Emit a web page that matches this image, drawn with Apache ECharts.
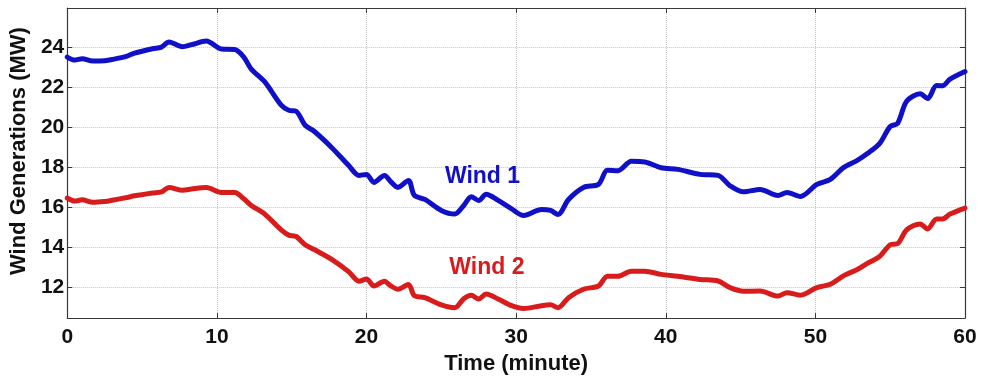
<!DOCTYPE html>
<html>
<head>
<meta charset="utf-8">
<title>Wind Generations</title>
<script src="https://cdn.jsdelivr.net/npm/echarts@6/dist/echarts.min.js"></script>
<style>
  html, body { margin: 0; padding: 0; background: #ffffff; }
  #chart { width: 982px; height: 380px; }
</style>
</head>
<body>
<div id="chart"></div>
<script>
// Sample times (minutes)
const timeMin = [0, 0.5, 1, 1.7, 2.5, 3, 4, 4.5, 5.7, 6.3, 6.8, 7.7, 8.3, 9.3, 10.3, 11.2, 11.8, 12.3, 13.2, 14.3,
  14.8, 15.3, 15.9, 16.5, 17.7, 18.8, 19.5, 20, 20.5, 21.2, 21.6, 22.1, 22.8, 23.2, 23.9, 25, 25.9, 26.5, 27, 27.5,
  28, 28.8, 29.7, 30.5, 31.7, 32.3, 32.8, 33.5, 34.5, 35.5, 36.1, 36.8, 37.7, 38.6, 39.7, 40.8, 42.3, 43.5, 44.3, 45.2,
  46.3, 47.5, 48.1, 49, 50.1, 51, 51.9, 52.8, 53.5, 54.3, 55, 55.5, 56.1, 57, 57.5, 58.1, 58.5, 59, 60];

// Wind farm 1 output (MW)
const wind1 = [23.5, 23.35, 23.42, 23.3, 23.32, 23.38, 23.55, 23.7, 23.92, 24.0, 24.25, 24.02, 24.12, 24.3, 23.9, 23.88, 23.5, 22.9, 22.26, 21.1,
  20.85, 20.8, 20.1, 19.8, 18.97, 18.1, 17.6, 17.65, 17.25, 17.6, 17.3, 17.0, 17.35, 16.6, 16.4, 15.85, 15.67, 16.1, 16.54, 16.35,
  16.66, 16.35, 15.93, 15.6, 15.9, 15.85, 15.65, 16.4, 17.0, 17.15, 17.85, 17.83, 18.3, 18.27, 17.98, 17.9, 17.65, 17.6, 17.08, 16.78,
  16.9, 16.6, 16.75, 16.55, 17.15, 17.4, 18.0, 18.35, 18.7, 19.2, 20.04, 20.2, 21.3, 21.67, 21.43, 22.08, 22.07, 22.4, 22.78];

// Wind farm 2 output (MW)
const wind2 = [16.47, 16.32, 16.38, 16.26, 16.3, 16.36, 16.5, 16.58, 16.72, 16.78, 17.0, 16.86, 16.92, 17.0, 16.75, 16.75, 16.43, 16.1, 15.67, 14.88,
  14.62, 14.55, 14.14, 13.9, 13.4, 12.8, 12.32, 12.43, 12.08, 12.32, 12.1, 11.92, 12.15, 11.6, 11.5, 11.14, 11.0, 11.45, 11.62, 11.43,
  11.68, 11.43, 11.1, 10.96, 11.1, 11.14, 11.0, 11.5, 11.92, 12.08, 12.57, 12.57, 12.82, 12.82, 12.66, 12.57, 12.41, 12.33, 12.0, 11.82,
  11.83, 11.58, 11.75, 11.62, 12.0, 12.17, 12.6, 12.9, 13.22, 13.56, 14.14, 14.2, 14.88, 15.18, 14.93, 15.43, 15.43, 15.67, 15.97];

const seriesNames = ['Wind 1', 'Wind 2'];
const seriesColors = ['#1010c8', '#d81c1c'];
const xTicks = [0, 10, 20, 30, 40, 50, 60];
const yTicks = [12, 14, 16, 18, 20, 22, 24];

const FONT = '"Liberation Sans", Arial, Helvetica, sans-serif';

const chart = echarts.init(document.getElementById('chart'), null, { renderer: 'canvas' });

function pairs(xs, ys) {
  return xs.map((x, i) => [x, ys[i]]);
}

const gridLine = { show: true, lineStyle: { color: '#c4c4c4', type: 'dotted', width: 1 } };
const boxLine = { show: true, onZero: false, lineStyle: { color: '#3a3a3a', width: 1.2 } };
const xTick = { show: true, inside: true, length: 5, customValues: xTicks, lineStyle: { color: '#3a3a3a', width: 1 } };
const yTick = { show: true, inside: true, length: 5, customValues: yTicks, lineStyle: { color: '#3a3a3a', width: 1 } };

const option = {
  backgroundColor: '#ffffff',
  animation: false,
  grid: { left: 65, right: 17, top: 8, bottom: 57, containLabel: false },
  xAxis: [
    {
      type: 'value', min: 0, max: 60, interval: 10, position: 'bottom',
      axisLine: boxLine, axisTick: xTick, splitLine: gridLine,
      axisLabel: {
        margin: 9, color: '#111', fontFamily: FONT, fontWeight: 'bold', fontSize: 21,
        customValues: xTicks
      },
      name: 'Time (minute)', nameLocation: 'middle', nameGap: 27,
      nameTextStyle: { color: '#111', fontFamily: FONT, fontWeight: 'bold', fontSize: 22 }
    },
    {
      type: 'value', min: 0, max: 60, interval: 10, position: 'top',
      axisLine: boxLine, axisTick: xTick, splitLine: { show: false }, axisLabel: { show: false }
    }
  ],
  yAxis: [
    {
      type: 'value', min: 10.48, max: 25.95, position: 'left',
      axisLine: boxLine, axisTick: yTick, splitLine: gridLine,
      axisLabel: {
        margin: 3, color: '#111', fontFamily: FONT, fontWeight: 'bold', fontSize: 21,
        customValues: yTicks
      },
      name: 'Wind Generations (MW)', nameLocation: 'middle', nameGap: 37, nameRotate: 90,
      nameTextStyle: { color: '#111', fontFamily: FONT, fontWeight: 'bold', fontSize: 22, padding: [0, 0, 0, 24] }
    },
    {
      type: 'value', min: 10.48, max: 25.95, position: 'right',
      axisLine: boxLine, axisTick: yTick, splitLine: { show: false }, axisLabel: { show: false }
    }
  ],
  series: [
    {
      name: seriesNames[0], type: 'line', xAxisIndex: 0, yAxisIndex: 0,
      data: pairs(timeMin, wind1), showSymbol: false, smooth: 0.3,
      lineStyle: { color: seriesColors[0], width: 5, cap: 'round', join: 'round' },
      markPoint: {
        symbol: 'circle', symbolSize: 0, silent: true,
        label: {
          show: true, formatter: seriesNames[0], color: seriesColors[0],
          fontFamily: FONT, fontWeight: 'bold', fontSize: 23, position: 'inside'
        },
        data: [{ coord: [27.75, 17.55] }]
      }
    },
    {
      name: seriesNames[1], type: 'line', xAxisIndex: 0, yAxisIndex: 0,
      data: pairs(timeMin, wind2), showSymbol: false, smooth: 0.3,
      lineStyle: { color: seriesColors[1], width: 5, cap: 'round', join: 'round' },
      markPoint: {
        symbol: 'circle', symbolSize: 0, silent: true,
        label: {
          show: true, formatter: seriesNames[1], color: seriesColors[1],
          fontFamily: FONT, fontWeight: 'bold', fontSize: 23, position: 'inside'
        },
        data: [{ coord: [28.05, 13.0] }]
      }
    }
  ]
};

chart.setOption(option);
</script>
</body>
</html>
